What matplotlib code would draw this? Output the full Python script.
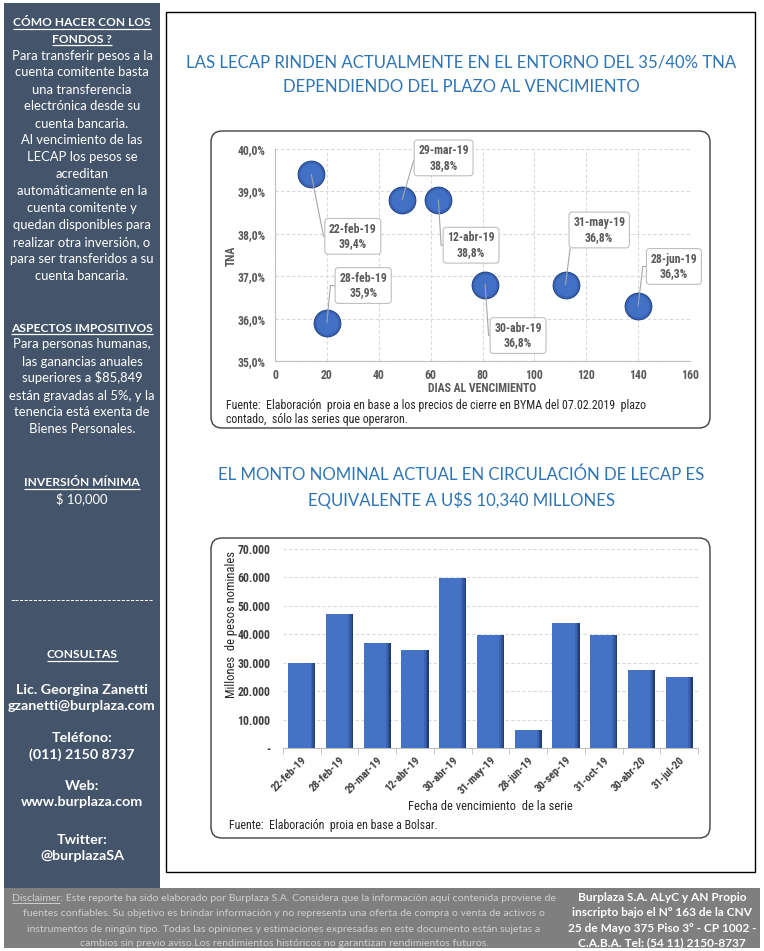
import matplotlib
matplotlib.use('Agg')
import matplotlib.pyplot as plt
from matplotlib import font_manager as fm
from matplotlib.patches import Rectangle, FancyBboxPatch
import numpy as np

# ---------------- data ----------------
scatter_labels = ['22-feb-19', '28-feb-19', '29-mar-19', '12-abr-19', '30-abr-19', '31-may-19', '28-jun-19']
scatter_days = [14, 20, 49, 63, 81, 112, 140]
scatter_tna = [39.4, 35.9, 38.8, 38.8, 36.8, 36.8, 36.3]

bar_labels = ['22-feb-19', '28-feb-19', '29-mar-19', '12-abr-19', '30-abr-19', '31-may-19',
              '28-jun-19', '30-sep-19', '31-oct-19', '30-abr-20', '31-jul-20']
bar_values = [29900, 47200, 37100, 34300, 59700, 39800, 6200, 43900, 39800, 27300, 24800]

scatter_xticks = [0, 20, 40, 60, 80, 100, 120, 140, 160]
scatter_yticks = [35, 36, 37, 38, 39, 40]
bar_yticks = [0, 10000, 20000, 30000, 40000, 50000, 60000, 70000]

# label box positions (layout, data coords) and leader angles
label_pos = [(30, 37.94), (34, 36.78), (65, 39.79), (75.6, 37.73), (93.7, 35.6), (125, 38.09), (153.8, 37.23)]
label_ang = [-78.8, 84.6, 73.7, -86.6, -86.0, 82.7, 83.2]

# ---------------- fonts ----------------
available = {f.name for f in fm.fontManager.ttflist}
def pick(*names):
    for n in names:
        if n in available:
            return n
    return 'DejaVu Sans'
BODY = pick('Lato', 'Open Sans', 'Roboto', 'Liberation Sans')
CHART = pick('Roboto Condensed', 'Liberation Sans Narrow', 'Roboto', 'Liberation Sans')

W, H = 764, 951
fig = plt.figure(figsize=(W / 100, H / 100), dpi=100)
fig.patch.set_facecolor('white')
bg = fig.add_axes([0, 0, 1, 1], zorder=0)
bg.set_xlim(0, W)
bg.set_ylim(H, 0)
bg.axis('off')
R = fig.canvas.get_renderer()


def text_width(s, family, weight, size):
    t = bg.text(0, 0, s, family=family, weight=weight, fontsize=size)
    w = t.get_window_extent(R).width
    t.remove()
    return w


def fit_size(s, family, weight, target):
    return 10 * target / text_width(s, family, weight, 10)


def underline(t, y_base, color, x0=None, x1=None, lw=0.9):
    bb = t.get_window_extent(R)
    inv = bg.transData.inverted()
    (a, _), (b, _) = inv.transform([(bb.x0, bb.y0), (bb.x1, bb.y0)])
    if x0 is None:
        x0 = a
    if x1 is None:
        x1 = b
    bg.plot([x0, x1], [y_base + 2, y_base + 2], color=color, lw=lw, solid_capstyle='butt')


# ---------------- page background ----------------
bg.add_patch(Rectangle((4, 3), 156, 886, color='#44546A', lw=0))
bg.add_patch(Rectangle((4, 888), 756, 60, color='#7F7F7F', lw=0))
bg.add_patch(Rectangle((166, 12), 589, 860, fc='white', ec='black', lw=1.0))
bg.add_patch(FancyBboxPatch((211, 131), 499, 297, boxstyle='round,pad=0,rounding_size=11',
                            fc='white', ec='#404040', lw=1.0))
bg.add_patch(FancyBboxPatch((211, 538), 499, 300, boxstyle='round,pad=0,rounding_size=11',
                            fc='white', ec='#404040', lw=1.0))

# ---------------- sidebar ----------------
side = [
    ('CÓMO HACER CON LOS', 26.5, 'h'),
    ('FONDOS ?', 43, 'h'),
    ('Para transferir pesos a la', 59.5, 'n'),
    ('cuenta comitente basta', 76.5, 'n'),
    ('una transferencia', 93.5, 'n'),
    ('electrónica desde su', 110.5, 'n'),
    ('cuenta bancaria.', 127.5, 'n'),
    ('Al vencimiento de las', 144, 'n'),
    ('LECAP los pesos se', 161, 'n'),
    ('acreditan', 178, 'n'),
    ('automáticamente en la', 195, 'n'),
    ('cuenta comitente y', 212, 'n'),
    ('quedan disponibles para', 229, 'n'),
    ('realizar otra inversión, o', 246, 'n'),
    ('para ser transferidos a su', 263, 'n'),
    ('cuenta bancaria.', 280, 'n'),
    ('ASPECTOS IMPOSITIVOS', 331.5, 'h'),
    ('Para personas humanas,', 348.5, 'n'),
    ('las ganancias anuales', 365.5, 'n'),
    ('superiores a $85,849', 382.5, 'n'),
    ('están gravadas al 5%, y la', 399.5, 'n'),
    ('tenencia está exenta de', 416, 'n'),
    ('Bienes Personales.', 433, 'n'),
    ('INVERSIÓN MÍNIMA', 486.5, 'h'),
    ('$ 10,000', 503, 'n'),
    ('CONSULTAS', 658.5, 'h'),
    ('Lic. Georgina Zanetti', 693.5, 'b'),
    ('gzanetti@burplaza.com', 709.5, 'b'),
    ('Teléfono:', 742.5, 'b'),
    ('(011) 2150 8737', 758.5, 'b'),
    ('Web:', 790, 'b'),
    ('www.burplaza.com', 806, 'b'),
    ('Twitter:', 843.5, 'b'),
    ('@burplazaSA', 860, 'b'),
]
sizes = {
    'n': fit_size('para ser transferidos a su', BODY, 'normal', 144),
    'h': fit_size('ASPECTOS IMPOSITIVOS', BODY, 'bold', 141),
    'b': fit_size('gzanetti@burplaza.com', BODY, 'bold', 147),
}
for s, y, st in side:
    t = bg.text(82, y, s, ha='center', va='baseline', color='white', fontsize=sizes[st],
                family=BODY, weight='normal' if st == 'n' else 'bold')
    if st == 'h':
        underline(t, y, 'white')
dash = '-' * 31
bg.text(82, 601.5, dash, ha='center', va='center', color='white',
        fontsize=fit_size(dash, BODY, 'normal', 145), family=BODY)

# ---------------- titles ----------------
title1 = ['LAS LECAP RINDEN ACTUALMENTE EN EL ENTORNO DEL 35/40% TNA',
          'DEPENDIENDO DEL PLAZO AL VENCIMIENTO']
title2 = ['EL MONTO NOMINAL ACTUAL EN CIRCULACIÓN DE LECAP ES',
          'EQUIVALENTE A U$S 10,340 MILLONES']
fs_t = fit_size(title1[0], BODY, 'normal', 546)
for s, y in zip(title1, [62, 87]):
    bg.text(461, y, s, ha='center', va='center', color='#2E75B6', fontsize=fs_t, family=BODY)
for s, y in zip(title2, [475, 500]):
    bg.text(461, y, s, ha='center', va='center', color='#2E75B6', fontsize=fs_t, family=BODY)

# ---------------- scatter chart ----------------
ax1 = fig.add_axes([275 / W, 1 - 361 / H, 415 / W, 212 / H], zorder=2)
ax1.set_facecolor('none')
ax1.set_xlim(0, 160)
ax1.set_ylim(35, 40)
ax1.set_xticks(scatter_xticks)
ax1.set_yticks(scatter_yticks)
ax1.set_yticklabels([f'{v:.1f}%'.replace('.', ',') for v in scatter_yticks])
ax1.grid(True, ls=(0, (3, 2)), color='#D9D9D9', lw=0.8)
ax1.set_axisbelow(True)
for sp in ['top', 'right']:
    ax1.spines[sp].set_visible(False)
for sp in ['left', 'bottom']:
    ax1.spines[sp].set_color('#BFBFBF')
ax1.tick_params(length=0, labelsize=8.5, labelcolor='#595959')
ax1.tick_params(axis='x', pad=6)
ax1.tick_params(axis='y', pad=7)
for lab in ax1.get_xticklabels() + ax1.get_yticklabels():
    lab.set_fontweight('bold')
    lab.set_family(CHART)

for s_, c_, z_ in [(400, '#25467F', 3.0), (370, '#2F559C', 3.1), (330, '#3863B6', 3.2), (250, '#4170C4', 3.3)]:
    ax1.scatter(scatter_days, scatter_tna, s=s_, color=c_, zorder=z_, lw=0)

for lab, d, v, (lx, ly), ang in zip(scatter_labels, scatter_days, scatter_tna, label_pos, label_ang):
    ax1.annotate(f'{lab}\n{v:.1f}%'.replace('.', ','), xy=(d, v), xytext=(lx, ly),
                 ha='center', va='center', fontsize=8.5, weight='bold', color='#595959',
                 family=CHART, linespacing=1.15,
                 bbox=dict(boxstyle='round,pad=0.35,rounding_size=0.3', fc='white', ec='#BFBFBF', lw=0.8),
                 arrowprops=dict(arrowstyle='-', color='#A6A6A6', lw=0.8, relpos=(0, 0.5),
                                 shrinkA=0, shrinkB=0,
                                 connectionstyle=f'angle,angleA=0,angleB={ang},rad=0'),
                 zorder=5)

bg.text(482, 389, 'DIAS AL VENCIMIENTO', ha='center', va='center', fontsize=8.5,
        weight='bold', color='#595959', family=CHART)
bg.text(231.5, 256, 'TNA', ha='center', va='center', rotation=90, fontsize=8.5,
        weight='bold', color='#595959', family=CHART)
src1 = 'Fuente:  Elaboración  proia en base a los precios de cierre en BYMA del 07.02.2019  plazo'
fs_src = fit_size(src1, CHART, 'normal', 416)
bg.text(226, 406, src1, ha='left', va='center', fontsize=fs_src, color='#262626', family=CHART)
bg.text(226, 419, 'contado,  sólo las series que operaron.', ha='left', va='center',
        fontsize=fs_src, color='#262626', family=CHART)

# ---------------- bar chart ----------------
ax2 = fig.add_axes([283 / W, 1 - 748 / H, 415 / W, 199 / H], zorder=2)
ax2.set_facecolor('none')
x = np.arange(len(bar_values))
bw = 0.72
ax2.bar(x, bar_values, width=bw, color='#4472C4', zorder=3)
for wdt, col, z in [(0.13, '#3A64B2', 3.1), (0.08, '#2E5398', 3.2), (0.04, '#203D74', 3.3)]:
    ax2.bar(x + bw / 2 - wdt / 2, bar_values, width=wdt, color=col, zorder=z)
ax2.set_xlim(-0.5, len(bar_values) - 0.5)
ax2.set_ylim(0, 70000)
ax2.set_yticks(bar_yticks)
ax2.set_yticklabels(['-' if v == 0 else f'{v:,}'.replace(',', '.') for v in bar_yticks])
ax2.set_xticks(x)
ax2.set_xticklabels(bar_labels, rotation=45, ha='right', rotation_mode='anchor')
ax2.set_xticks(np.arange(-0.5, len(bar_values)), minor=True)
ax2.grid(True, axis='y', ls=(0, (3, 2)), color='#D9D9D9', lw=0.8)
ax2.set_axisbelow(True)
for sp in ['top', 'right', 'left']:
    ax2.spines[sp].set_visible(False)
ax2.spines['bottom'].set_color('#BFBFBF')
ax2.tick_params(axis='both', which='major', length=0, labelcolor='#404040')
ax2.tick_params(axis='y', labelsize=8.5, pad=9)
ax2.tick_params(axis='x', labelsize=7.8, pad=5)
ax2.tick_params(axis='x', which='minor', length=4, color='#BFBFBF', direction='out')
for lab in ax2.get_xticklabels() + ax2.get_yticklabels():
    lab.set_fontweight('bold')
    lab.set_family(CHART)

bg.text(490, 806, 'Fecha de vencimiento  de la serie', ha='center', va='center', fontsize=9,
        color='#262626', family=CHART)
bg.text(231, 624, 'Millones  de pesos nominales', ha='center', va='center', rotation=90,
        fontsize=9, color='#262626', family=CHART)
bg.text(229, 825, 'Fuente:  Elaboración  proia en base a Bolsar.', ha='left', va='center',
        fontsize=fs_src, color='#262626', family=CHART)

# ---------------- footer ----------------
foot_left = [
    'Disclaimer: Este reporte ha sido elaborado por Burplaza S.A. Considera que la información aquí contenida proviene de',
    'fuentes confiables. Su objetivo es brindar información y no representa una oferta de compra o venta de activos o',
    'instrumentos de ningún tipo. Todas las opiniones y estimaciones expresadas en este documento están sujetas a',
    'cambios sin previo aviso.Los rendimientos históricos no garantizan rendimientos futuros.',
]
foot_right = [
    'Burplaza S.A. ALyC y AN Propio',
    'inscripto bajo el Nº 163 de la CNV',
    '25 de Mayo 375 Piso 3º - CP 1002 -',
    'C.A.B.A. Tel: (54 11) 2150-8737',
]
foot_y = [902, 917, 933, 947]
fs_fl = fit_size(foot_left[1], BODY, 'normal', 519)
fs_fr = fit_size(foot_right[2], BODY, 'bold', 189)
for i, (s, y) in enumerate(zip(foot_left, foot_y)):
    t = bg.text(284, y - 1, s, ha='center', va='baseline', fontsize=fs_fl, color='#CFCFCF', family=BODY)
    if i == 0:
        bb = t.get_window_extent(R)
        x0 = bg.transData.inverted().transform((bb.x0, bb.y0))[0]
        wd = text_width('Disclaimer', BODY, 'normal', fs_fl)
        underline(t, y - 1, '#CFCFCF', x0=x0, x1=x0 + wd, lw=0.7)
for s, y in zip(foot_right, foot_y):
    bg.text(662, y - 1, s, ha='center', va='baseline', fontsize=fs_fr, color='white',
            weight='bold', family=BODY)

fig.savefig('out.png', dpi=100)
